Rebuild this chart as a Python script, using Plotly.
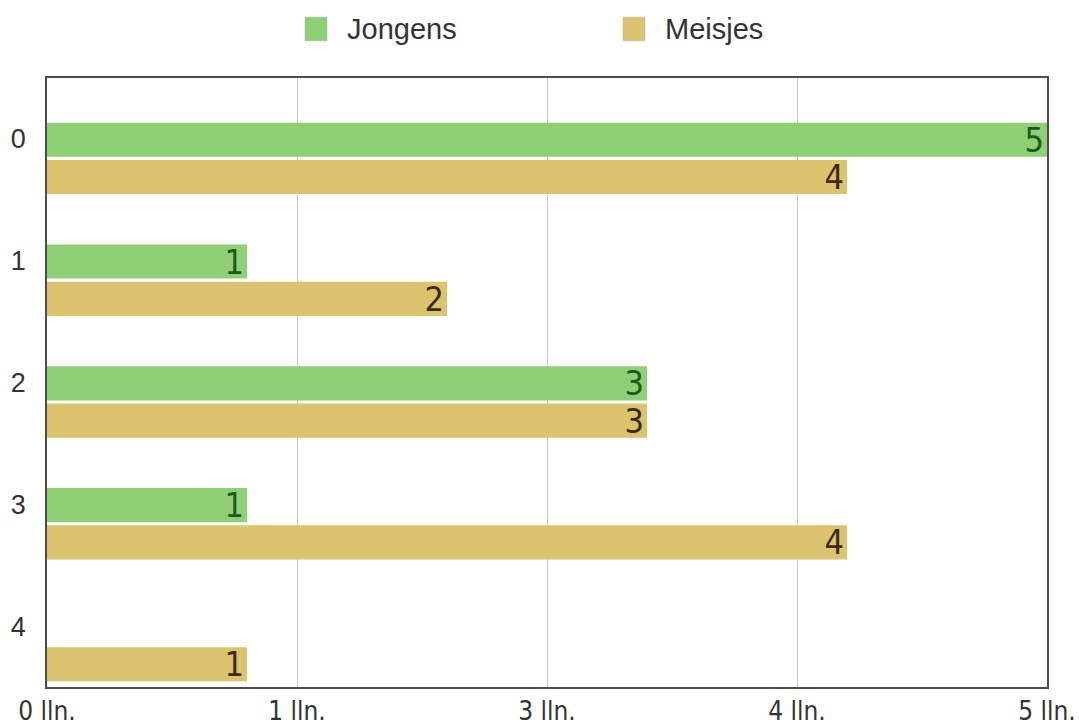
import plotly.graph_objects as go

# Number of pupils per category, split by boys (Jongens) and girls (Meisjes)
categories = [0, 1, 2, 3, 4]
jongens = [5, 1, 3, 1, None]   # no boys in category 4
meisjes = [4, 2, 3, 4, 1]

x_tickvals = [0, 1.25, 2.5, 3.75, 5]
x_ticktext = ["0 lln.", "1 lln.", "3 lln.", "4 lln.", "5 lln."]

GREEN = "#8fcf75"
TAN = "#dcc36d"
GREEN_TEXT = "#1d5a1d"
TAN_TEXT = "#3a2b10"
BORDER = "#4d4d4d"
GRID = "#c9c9c9"
NARROW = "DejaVu Sans Condensed, Liberation Sans, Arial, sans-serif"
REGULAR = "Liberation Sans, Arial, Helvetica, sans-serif"


def bar_labels(values):
    return ["" if v is None else str(v) for v in values]


fig = go.Figure()

fig.add_trace(go.Bar(
    name="Jongens", y=categories, x=jongens, orientation="h",
    width=0.28, offset=-0.133,
    marker=dict(color=GREEN, line=dict(width=0)),
    text=bar_labels(jongens), texttemplate="%{text}",
    textposition="inside", insidetextanchor="end", textangle=0,
    constraintext="none",
    insidetextfont=dict(family=NARROW, size=34, color=GREEN_TEXT),
    showlegend=False, hoverinfo="skip",
))

fig.add_trace(go.Bar(
    name="Meisjes", y=categories, x=meisjes, orientation="h",
    width=0.28, offset=0.173,
    marker=dict(color=TAN, line=dict(width=0)),
    text=bar_labels(meisjes), texttemplate="%{text}",
    textposition="inside", insidetextanchor="end", textangle=0,
    constraintext="none",
    insidetextfont=dict(family=NARROW, size=34, color=TAN_TEXT),
    showlegend=False, hoverinfo="skip",
))

# Hand-drawn legend row above the plot
legend_items = [("Jongens", GREEN, 0.258), ("Meisjes", TAN, 0.576)]
for label, color, x0 in legend_items:
    fig.add_shape(type="rect", xref="paper", yref="paper",
                  x0=x0, x1=x0 + 0.022, y0=1.061, y1=1.100,
                  fillcolor=color, line=dict(color="#b5b5b5", width=0.5))
    fig.add_annotation(xref="paper", yref="paper", x=x0 + 0.040, y=1.081,
                       text=label, showarrow=False, xanchor="left", yanchor="middle",
                       font=dict(family=REGULAR, size=29, color="#333333"))

fig.update_layout(
    width=1079, height=726,
    margin=dict(l=47, r=32, t=78, b=39),
    paper_bgcolor="white", plot_bgcolor="white",
    barmode="overlay",
    xaxis=dict(
        range=[0, 5], tickvals=x_tickvals, ticktext=x_ticktext,
        showgrid=True, gridcolor=GRID, gridwidth=1, zeroline=False,
        showline=True, linecolor=BORDER, linewidth=1.5, mirror=True,
        ticks="", ticklabelstandoff=0, automargin=False,
        tickfont=dict(family=NARROW, size=26, color="#333333"),
        fixedrange=True,
    ),
    yaxis=dict(
        range=[4.5, -0.5], tickvals=categories, ticktext=[str(c) for c in categories],
        showgrid=False, zeroline=False,
        showline=True, linecolor=BORDER, linewidth=1.5, mirror=True,
        ticks="", ticklabelstandoff=14, automargin=False,
        tickfont=dict(family=REGULAR, size=27, color="#333333"),
        fixedrange=True,
    ),
)

fig.write_html("out.html")
